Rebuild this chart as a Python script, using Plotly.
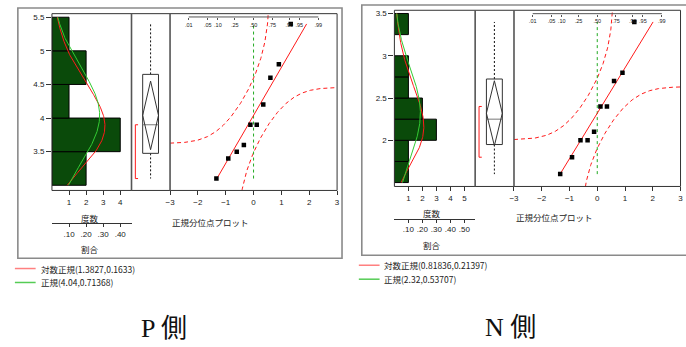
import math
from statistics import NormalDist

import numpy as np
import plotly.graph_objects as go

W, H = 686, 347

# ---- P side -------------------------------------------------------------
p_values = [3.1, 3.4, 3.5, 3.6, 3.9, 3.9, 4.2, 4.6, 4.8, 5.4]
p_bin_edges = [3.0, 3.5, 4.0, 4.5, 5.0, 5.5]
p_normal = (4.04, 0.71368)
p_lognormal = (1.3827, 0.1633)
p_shortest_half = (3.1, 3.9)
p_yticks = [3.5, 4, 4.5, 5, 5.5]
p_yticklabels = ["3.5", "4", "4.5", "5", "5.5"]
p_count_ticks = [1, 2, 3, 4]
p_ratio_labels = [".10", ".20", ".30", ".40"]

# ---- N side -------------------------------------------------------------
n_values = [1.6, 1.8, 2.0, 2.0, 2.1, 2.4, 2.4, 2.7, 2.8, 3.4]
n_bin_edges = [1.5, 1.75, 2.0, 2.25, 2.5, 2.75, 3.0, 3.25, 3.5]
n_normal = (2.32, 0.53707)
n_lognormal = (0.81836, 0.21397)
n_shortest_half = (1.8, 2.4)
n_yticks = [2, 2.5, 3, 3.5]
n_yticklabels = ["2", "2.5", "3", "3.5"]
n_count_ticks = [1, 2, 3, 4, 5]
n_ratio_labels = [".10", ".20", ".30", ".40", ".50"]

# ---- shared -------------------------------------------------------------
prob_ticks = [0.01, 0.05, 0.10, 0.25, 0.50, 0.75, 0.90, 0.95, 0.99]
prob_labels = [".01", ".05", ".10", ".25", ".50", ".75", ".90", ".95", ".99"]
qq_ticks = [-3, -2, -1, 0, 1, 2, 3]
T975_DF9 = 2.2622          # t critical value, 95% mean diamond
LILLIEFORS_D = 0.28        # confidence band half-width on probability scale

HIST_GREEN = "#0a4a0a"
RED = "#ff1a1a"
GREEN = "#33cc33"
FRAME = "#555555"
SANS = "Liberation Sans, Arial, Noto Sans CJK JP"
JP = "Noto Sans CJK JP, Liberation Sans"
TICKFONT = dict(family=SANS, size=8, color="#222222")

ND = NormalDist()


def px(x):
    return x / W


def py(y):
    return 1 - y / H


def lk(name):
    return ("xaxis" if name[0] == "x" else "yaxis") + name[1:]


def jmp_quantile(v, p):
    n = len(v)
    pos = p * (n + 1)
    lo = int(math.floor(pos))
    frac = pos - lo
    if lo < 1:
        return v[0]
    if lo >= n:
        return v[-1]
    return v[lo - 1] + frac * (v[lo] - v[lo - 1])


fig = go.Figure()
layout = dict(
    width=W, height=H, margin=dict(l=0, r=0, t=0, b=0),
    paper_bgcolor="white", plot_bgcolor="rgba(0,0,0,0)", showlegend=False,
)
shapes, notes = [], []


def add_panel(axes, s, g):
    xh, xb, xq, xr, xp, yy = axes
    vals = np.sort(np.asarray(s["values"], float))
    n = len(vals)
    mu, sd = s["normal"]
    lmu, lsd = s["lognormal"]
    edges = np.asarray(s["edges"], float)
    counts, _ = np.histogram(vals, bins=edges)
    widths = np.diff(edges)
    centers = edges[:-1] + widths / 2
    keep = counts > 0
    ylo, yhi = g["yrange"]
    ydom = [py(g["bottom"]), py(g["top"])]

    # histogram (horizontal bars)
    fig.add_trace(go.Bar(
        x=counts[keep], y=centers[keep], width=widths[keep], base=0, orientation="h",
        marker=dict(color=HIST_GREEN, line=dict(color="black", width=1)),
        xaxis=xh, yaxis=yy, hoverinfo="skip"))

    # fitted densities scaled to counts
    grid = np.linspace(edges[0], edges[-1], 240)
    scale = n * widths[0]
    norm_pdf = np.exp(-0.5 * ((grid - mu) / sd) ** 2) / (sd * math.sqrt(2 * math.pi))
    logn_pdf = np.exp(-0.5 * ((np.log(grid) - lmu) / lsd) ** 2) / (grid * lsd * math.sqrt(2 * math.pi))
    fig.add_trace(go.Scatter(x=scale * logn_pdf, y=grid, mode="lines",
                             line=dict(color=RED, width=1), xaxis=xh, yaxis=yy, hoverinfo="skip"))
    fig.add_trace(go.Scatter(x=scale * norm_pdf, y=grid, mode="lines",
                             line=dict(color=GREEN, width=1), xaxis=xh, yaxis=yy, hoverinfo="skip"))

    # outlier box plot with mean diamond and shortest-half bracket
    q1, med, q3 = (jmp_quantile(vals, p) for p in (0.25, 0.5, 0.75))
    ci = T975_DF9 * sd / math.sqrt(n)
    bl, br, bc = 0.29, 0.70, 0.495
    fig.add_trace(go.Scatter(x=[bc, bc, None, bc, bc], y=[q3, vals.max(), None, q1, vals.min()],
                             mode="lines", line=dict(color="#111111", width=1, dash="2px,2px"),
                             xaxis=xb, yaxis=yy, hoverinfo="skip"))
    fig.add_trace(go.Scatter(x=[bl, br, br, bl, bl], y=[q1, q1, q3, q3, q1], mode="lines",
                             line=dict(color="#333333", width=1), xaxis=xb, yaxis=yy, hoverinfo="skip"))
    fig.add_trace(go.Scatter(x=[bl, br], y=[med, med], mode="lines",
                             line=dict(color="#777777", width=1), xaxis=xb, yaxis=yy, hoverinfo="skip"))
    fig.add_trace(go.Scatter(x=[bc, br, bc, bl, bc], y=[mu + ci, mu, mu - ci, mu, mu + ci], mode="lines",
                             line=dict(color="#333333", width=1), xaxis=xb, yaxis=yy, hoverinfo="skip"))
    lo_h, hi_h = s["half"]
    fig.add_trace(go.Scatter(x=[0.17, 0.10, 0.10, 0.17], y=[hi_h, hi_h, lo_h, lo_h], mode="lines",
                             line=dict(color=RED, width=1), xaxis=xb, yaxis=yy, hoverinfo="skip"))

    # normal quantile plot
    zs = np.array([ND.inv_cdf(r / (n + 1)) for r in range(1, n + 1)])
    zgrid = np.linspace(-3, 3, 601)
    cdf = np.array([ND.cdf(z) for z in zgrid])
    up = [mu + sd * ND.inv_cdf(min(max(c + LILLIEFORS_D, 1e-9), 1 - 1e-9)) for c in cdf]
    dn = [mu + sd * ND.inv_cdf(min(max(c - LILLIEFORS_D, 1e-9), 1 - 1e-9)) for c in cdf]
    band = dict(color=RED, width=1, dash="4px,3px")
    fig.add_trace(go.Scatter(x=zgrid, y=up, mode="lines", line=band, xaxis=xq, yaxis=yy, hoverinfo="skip"))
    fig.add_trace(go.Scatter(x=zgrid, y=dn, mode="lines", line=band, xaxis=xq, yaxis=yy, hoverinfo="skip"))
    fig.add_trace(go.Scatter(x=[0, 0], y=[vals.min(), vals.max()], mode="lines",
                             line=dict(color="#22aa22", width=1, dash="3px,3px"),
                             xaxis=xq, yaxis=yy, hoverinfo="skip"))
    zmin, zmax = (vals.min() - mu) / sd, (vals.max() - mu) / sd
    fig.add_trace(go.Scatter(x=[zmin, zmax], y=[vals.min(), vals.max()], mode="lines",
                             line=dict(color=RED, width=1), xaxis=xq, yaxis=yy, hoverinfo="skip"))
    fig.add_trace(go.Scatter(x=zs, y=vals, mode="markers",
                             marker=dict(symbol="square", size=4.5, color="black"),
                             xaxis=xq, yaxis=yy, hoverinfo="skip"))

    # placeholders so the free-standing axes get drawn
    fig.add_trace(go.Scatter(x=[0.5], y=[ylo], mode="markers", marker=dict(opacity=0),
                             xaxis=xr, yaxis=yy, hoverinfo="skip"))
    fig.add_trace(go.Scatter(x=[0], y=[ylo], mode="markers", marker=dict(opacity=0),
                             xaxis=xp, yaxis=yy, hoverinfo="skip"))

    hdom = [px(g["hist"][0]), px(g["hist"][1])]
    qdom = [px(g["qq"][0]), px(g["qq"][1])]
    common = dict(showgrid=False, zeroline=False, fixedrange=True)
    layout[lk(yy)] = dict(domain=ydom, range=[ylo, yhi], anchor=xh, tickvals=s["yticks"],
                          ticktext=s["yticklabels"], ticks="outside", ticklen=5, tickcolor="#333",
                          showline=False, tickfont=TICKFONT, **common)
    layout[lk(xh)] = dict(domain=hdom, range=[0, g["crange"]], anchor=yy, tickvals=s["cticks"],
                          ticks="outside", ticklen=4, tickcolor="#333", showline=False,
                          tickfont=TICKFONT, **common)
    layout[lk(xb)] = dict(domain=[px(g["box"][0]), px(g["box"][1])], range=[0, 1], anchor=yy,
                          visible=False, **common)
    layout[lk(xq)] = dict(domain=qdom, range=[-3, 3], anchor=yy, tickvals=qq_ticks,
                          ticks="outside", ticklen=4, tickcolor="#333", showline=False,
                          tickfont=TICKFONT, **common)
    layout[lk(xr)] = dict(domain=hdom, range=[0, g["crange"]], overlaying=xh, anchor="free",
                          position=py(g["prop_y"]), tickvals=s["cticks"], ticktext=s["ratio_labels"],
                          ticks="outside", ticklen=3, tickcolor="#333", showline=True,
                          linecolor="#333", linewidth=1, tickfont=TICKFONT, **common)
    layout[lk(xp)] = dict(domain=qdom, range=[-3, 3], overlaying=xq, anchor="free",
                          position=py(g["prob_y"]), tickvals=[ND.inv_cdf(p) for p in prob_ticks],
                          ticktext=prob_labels, ticks="outside", ticklen=2, tickcolor="#555",
                          showline=False, tickfont=dict(family=SANS, size=5.5, color="#222"), **common)

    # probability scale line
    shapes.append(dict(type="line", xref=xq, yref="paper", x0=ND.inv_cdf(prob_ticks[0]),
                       x1=ND.inv_cdf(prob_ticks[-1]), y0=py(g["prob_y"]), y1=py(g["prob_y"]),
                       line=dict(color="#555", width=1)))
    # frames
    fx0, fy0, fx1, fy1 = g["frame"]
    shapes.append(dict(type="rect", xref="paper", yref="paper", x0=px(fx0), x1=px(fx1),
                       y0=py(fy1), y1=py(fy0), line=dict(color="#8a8a8a", width=1.6)))
    shapes.append(dict(type="rect", xref="paper", yref="paper", x0=px(g["hist"][0]), x1=px(g["qq"][1]),
                       y0=py(g["bottom"]), y1=py(g["top"]), line=dict(color="#333", width=1)))
    for xv in (g["box"][0], g["box"][1]):
        shapes.append(dict(type="line", xref="paper", yref="paper", x0=px(xv), x1=px(xv),
                           y0=py(g["bottom"]), y1=py(g["top"]), line=dict(color=FRAME, width=1.6)))

    # axis captions
    lbl = dict(family=JP, size=8.5, color="#222")
    notes.append(dict(text="度数", x=px(g["freq_lbl"][0]), y=py(g["freq_lbl"][1]), font=lbl,
                      xanchor="center", yanchor="middle"))
    notes.append(dict(text="割合", x=px(g["ratio_lbl"][0]), y=py(g["ratio_lbl"][1]), font=lbl,
                      xanchor="center", yanchor="middle"))
    notes.append(dict(text="正規分位点プロット", x=px(g["qq_lbl"][0]), y=py(g["qq_lbl"][1]), font=lbl,
                      xanchor="left", yanchor="middle"))

    # fit legend
    lx0, lx1, tx, ry1, ry2 = g["legend"]
    for yrow, col, label in (
        (ry1, "#ff8080", f"対数正規({lmu},{lsd})"),
        (ry2, "#55cc55", f"正規({mu},{sd})"),
    ):
        shapes.append(dict(type="line", xref="paper", yref="paper", x0=px(lx0), x1=px(lx1),
                           y0=py(yrow), y1=py(yrow), line=dict(color=col, width=1.5)))
        notes.append(dict(text=label, x=px(tx), y=py(yrow), xanchor="left", yanchor="middle",
                          font=dict(family=JP, size=8.5, color="#222")))

    notes.append(dict(text=s["title"], x=px(g["title"][0]), y=py(g["title"][1]),
                      xanchor="center", yanchor="middle",
                      font=dict(family="Liberation Serif, Noto Sans CJK JP", size=26, color="#111")))


add_panel(
    ("x", "x2", "x3", "x4", "x5", "y"),
    dict(values=p_values, edges=p_bin_edges, normal=p_normal, lognormal=p_lognormal,
         half=p_shortest_half, yticks=p_yticks, yticklabels=p_yticklabels,
         cticks=p_count_ticks, ratio_labels=p_ratio_labels, title="P 側"),
    dict(frame=(13, 7, 341, 258), hist=(47.5, 128), box=(128, 167), qq=(167, 336),
         top=12.7, bottom=190, yrange=(2.923, 5.553), crange=4.66, prop_y=223,
         freq_lbl=(86, 217.7), ratio_lbl=(86, 249), qq_lbl=(167, 221.7), prob_y=16,
         legend=(10, 31, 34, 268.3, 282.3), title=(161, 328)),
)
add_panel(
    ("x6", "x7", "x8", "x9", "x10", "y2"),
    dict(values=n_values, edges=n_bin_edges, normal=n_normal, lognormal=n_lognormal,
         half=n_shortest_half, yticks=n_yticks, yticklabels=n_yticklabels,
         cticks=n_count_ticks, ratio_labels=n_ratio_labels, title="N 側"),
    dict(frame=(361, 4, 690, 255), hist=(394, 475.7), box=(475.7, 515), qq=(515, 683.5),
         top=9.3, bottom=186, yrange=(1.454, 3.538), crange=5.77, prop_y=218.3,
         freq_lbl=(432, 213), ratio_lbl=(432, 244.3), qq_lbl=(515, 216.7), prob_y=12.7,
         legend=(358, 379, 381, 265, 279), title=(511, 327)),
)

for a in notes:
    a.update(xref="paper", yref="paper", showarrow=False)
layout["shapes"] = shapes
layout["annotations"] = notes
fig.update_layout(**layout)
fig.write_html("out.html")
